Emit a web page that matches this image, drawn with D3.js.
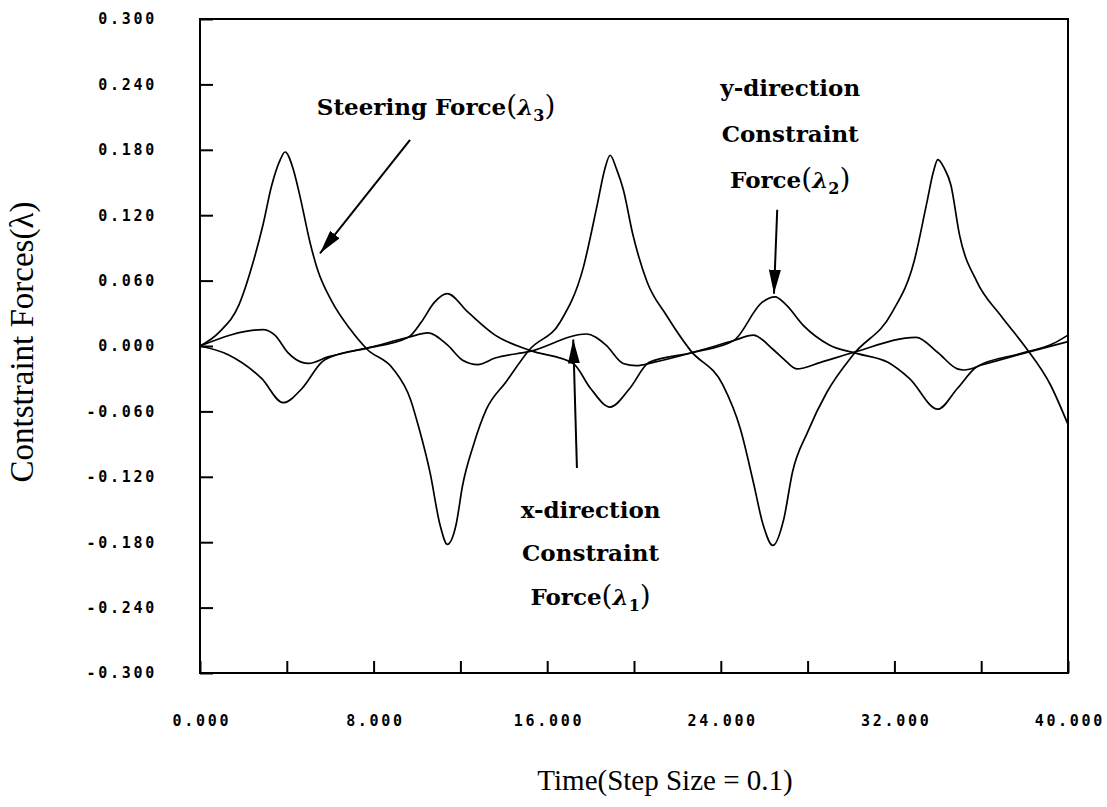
<!DOCTYPE html>
<html>
<head>
<meta charset="utf-8">
<script src="https://cdn.jsdelivr.net/npm/d3@7"></script>
<style>
  body { margin: 0; background: #fff; }
  .tick text { font-family: "DejaVu Sans Mono", monospace; font-weight: bold; font-size: 15px; letter-spacing: 2.7px; fill: #000; }
  .note { font-family: "DejaVu Serif", serif; font-weight: bold; font-size: 23px; fill: #000; }
  .title { font-family: "Liberation Serif", serif; fill: #000; }
</style>
</head>
<body>
<svg id="chart"></svg>
<script>
// Steering force (lambda 3)
var tSteer = [0, 0.9, 1.8, 2.45, 2.9, 3.3, 3.7, 3.92, 4.3, 4.6, 5.07, 5.4, 6.1, 6.9, 7.7,
  8.9, 9.7, 10.1, 10.6, 11.06, 11.4, 11.8, 12.1, 12.6, 13.2, 14.1, 15.2,
  16.6, 17.65, 18.3, 18.65, 18.9, 19.2, 19.5, 19.95, 20.6, 21.5, 22.6,
  24.1, 24.9, 25.5, 25.95, 26.4, 26.9, 27.3, 28.0, 28.9, 30.1,
  31.9, 32.9, 33.5, 33.8, 34.0, 34.3, 34.6, 35.0, 35.8, 36.9, 38.0, 39.2, 40.0];
var vSteer = [0, 0.013, 0.038, 0.077, 0.111, 0.147, 0.171, 0.178, 0.162, 0.138, 0.095, 0.071, 0.040, 0.016, -0.003,
  -0.021, -0.049, -0.076, -0.116, -0.164, -0.182, -0.164, -0.128, -0.091, -0.058, -0.033, -0.003,
  0.022, 0.071, 0.129, 0.162, 0.175, 0.162, 0.144, 0.102, 0.059, 0.028, -0.004,
  -0.036, -0.076, -0.125, -0.164, -0.183, -0.159, -0.116, -0.079, -0.042, -0.008,
  0.031, 0.077, 0.132, 0.160, 0.171, 0.163, 0.148, 0.102, 0.059, 0.028, 0.000, -0.036, -0.072];

// y-direction constraint force (lambda 2)
var tYdir = [0, 1.3, 2.85, 3.82, 4.7, 5.6, 6.5, 7.7, 9.6, 10.2, 10.8, 11.4, 12.35, 13.6, 15.2,
  17.2, 18.0, 18.9, 19.8, 20.7, 22.7, 24.6, 25.9, 26.5, 27.0, 27.8, 29.0,
  30.3, 31.7, 32.7, 34.0, 34.9, 35.8, 37.8, 39.3, 40.0];
var vYdir = [0, -0.008, -0.030, -0.052, -0.039, -0.015, -0.007, -0.002, 0.008, 0.022, 0.040, 0.048, 0.031, 0.010, -0.004,
  -0.016, -0.039, -0.056, -0.039, -0.015, -0.006, 0.005, 0.040, 0.045, 0.038, 0.019, 0.001,
  -0.007, -0.015, -0.030, -0.058, -0.039, -0.019, -0.007, 0.002, 0.010];

// x-direction constraint force (lambda 1)
var tXdir = [0, 2.9, 3.45, 4.05, 4.7, 5.0, 5.9, 7.7, 9.6, 10.5, 11.4, 12.1, 12.8, 13.6, 15.2,
  17.8, 18.7, 19.5, 20.1, 20.9, 22.7, 24.6, 25.5, 26.4, 26.9, 27.5, 28.6, 30.1,
  33.0, 34.0, 34.9, 35.2, 36.1, 37.9, 40.0];
var vXdir = [0, 0.015, 0.010, -0.006, -0.015, -0.016, -0.010, -0.002, 0.008, 0.012, 0.001, -0.013, -0.017, -0.011, -0.005,
  0.011, 0.001, -0.016, -0.018, -0.015, -0.006, 0.005, 0.010, -0.003, -0.012, -0.021, -0.015, -0.006,
  0.008, -0.006, -0.021, -0.022, -0.017, -0.007, 0.004];

// Tick values and labels
var xTickValues = [0, 4, 8, 12, 16, 20, 24, 28, 32, 36, 40];
var xTickLabels = ["0.000", "", "8.000", "", "16.000", "", "24.000", "", "32.000", "", "40.000"];
var yTickValues = [0.3, 0.24, 0.18, 0.12, 0.06, 0, -0.06, -0.12, -0.18, -0.24, -0.3];
var yTickLabels = ["0.300", "0.240", "0.180", "0.120", "0.060", "0.000", "-0.060", "-0.120", "-0.180", "-0.240", "-0.300"];

var width = 1107, height = 807;
var margin = {top: 19, right: 39, bottom: 134, left: 200};
var plotW = width - margin.left - margin.right;
var plotH = height - margin.top - margin.bottom;

var x = d3.scaleLinear().domain([0, 40]).range([0, plotW]);
var y = d3.scaleLinear().domain([-0.3, 0.3]).range([plotH, 0]);

var svg = d3.select("#chart")
  .attr("width", width)
  .attr("height", height);

var chart = svg.append("g")
  .attr("transform", "translate(" + margin.left + "," + margin.top + ")");

// arrow head
svg.append("defs").append("marker")
  .attr("id", "head")
  .attr("viewBox", "0 0 24 12")
  .attr("refX", 24).attr("refY", 6)
  .attr("markerWidth", 24).attr("markerHeight", 12)
  .attr("markerUnits", "userSpaceOnUse")
  .attr("orient", "auto")
.append("path")
  .attr("d", "M0,0 L24,6 L0,12 Z")
  .attr("fill", "#000");

// axes
var yaxis = d3.axisLeft(y)
  .tickValues(yTickValues)
  .tickFormat(function(d, i) { return yTickLabels[i]; })
  .tickSizeInner(-13).tickSizeOuter(0).tickPadding(43);
var xaxis = d3.axisBottom(x)
  .tickValues(xTickValues)
  .tickFormat(function(d, i) { return xTickLabels[i]; })
  .tickSizeInner(-12).tickSizeOuter(0).tickPadding(42);

chart.append("g").attr("class", "y axis").call(yaxis);
chart.append("g").attr("class", "x axis")
  .attr("transform", "translate(0," + plotH + ")")
  .call(xaxis);
chart.selectAll(".axis .domain").remove();
chart.selectAll(".axis line").attr("stroke", "#000").attr("stroke-width", 2);
chart.selectAll(".x.axis text").attr("dx", "1.35px");

// frame
chart.append("rect")
  .attr("width", plotW).attr("height", plotH)
  .attr("fill", "none").attr("stroke", "#000").attr("stroke-width", 2);

// curves
var line = d3.line()
  .x(function(d) { return x(d[0]); })
  .y(function(d) { return y(d[1]); })
  .curve(d3.curveMonotoneX);

[[tSteer, vSteer], [tYdir, vYdir], [tXdir, vXdir]].forEach(function(s) {
  chart.append("path")
    .datum(d3.zip(s[0], s[1]))
    .attr("d", line)
    .attr("fill", "none")
    .attr("stroke", "#000")
    .attr("stroke-width", 1.7);
});

// annotations
function note(lines, tx, vs, sub) {
  lines.forEach(function(txt, i) {
    var t = chart.append("text").attr("class", "note")
      .attr("x", x(tx)).attr("y", y(vs[i]))
      .attr("text-anchor", "middle");
    if (i === lines.length - 1) {
      t.append("tspan").text(txt);
      t.append("tspan").attr("font-weight", "normal").attr("font-size", "28px").text("(");
      t.append("tspan").attr("font-style", "italic").text("λ");
      t.append("tspan").attr("dy", 6).attr("font-size", "16px").text(sub);
      t.append("tspan").attr("dy", -6).attr("font-weight", "normal").attr("font-size", "28px").text(")");
    } else {
      t.text(txt);
    }
  });
}
function arrow(t0, v0, t1, v1) {
  chart.append("line")
    .attr("x1", x(t0)).attr("y1", y(v0))
    .attr("x2", x(t1)).attr("y2", y(v1))
    .attr("stroke", "#000").attr("stroke-width", 2)
    .attr("marker-end", "url(#head)");
}

note(["Steering Force"], 10.88, [0.212], "3");
arrow(9.68, 0.189, 5.53, 0.085);

note(["y-direction", "Constraint", "Force"], 27.2, [0.229, 0.187, 0.145], "2");
arrow(26.6, 0.125, 26.45, 0.048);

note(["x-direction", "Constraint", "Force"], 18.0, [-0.158, -0.197, -0.238], "1");
arrow(17.37, -0.112, 17.2, 0.006);

// axis titles
svg.append("text").attr("class", "title")
  .attr("transform", "translate(33,342) rotate(-90)")
  .attr("text-anchor", "middle")
  .attr("font-size", "33px")
  .text("Contstraint Forces(λ)");

svg.append("text").attr("class", "title")
  .attr("x", 665).attr("y", 790)
  .attr("text-anchor", "middle")
  .attr("font-size", "29px")
  .text("Time(Step Size = 0.1)");
</script>
</body>
</html>
